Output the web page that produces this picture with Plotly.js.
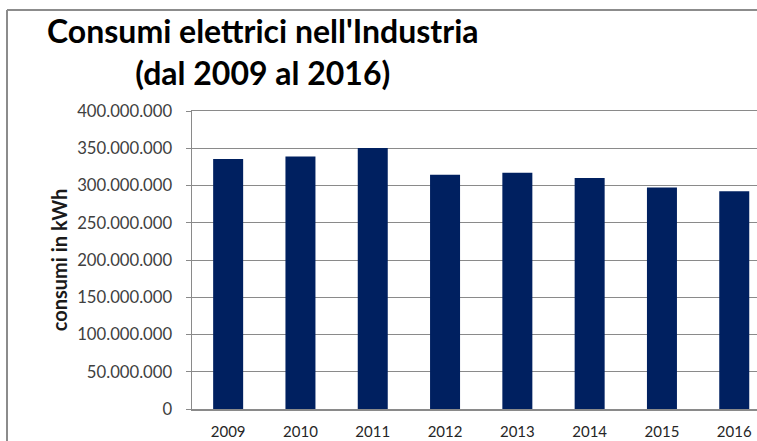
<!DOCTYPE html>
<html>
<head>
<meta charset="utf-8">
<script src="https://cdn.plot.ly/plotly-3.0.1.min.js"></script>
<style>
  html, body { margin: 0; padding: 0; overflow: hidden; background: #fff; width: 757px; height: 441px; }
  #chart { width: 757px; height: 441px; }
</style>
</head>
<body>
<div id="chart"></div>
<script>
const years = ['2009', '2010', '2011', '2012', '2013', '2014', '2015', '2016'];
const consumi = [335500000, 339000000, 350500000, 314500000, 317000000, 310000000, 297300000, 292300000];
const yTicks = [0, 50000000, 100000000, 150000000, 200000000, 250000000, 300000000, 350000000, 400000000];

const W = 757, H = 441;
const plotLeft = 192, plotTop = 111, plotH = 298;
const plotW = W - plotLeft;
const catStep = 72.3;
const px2x = p => (p - plotLeft) / plotW;
const py2y = p => (plotTop + plotH - p) / plotH;

const trace = {
  type: 'bar',
  x: years,
  y: consumi,
  marker: { color: '#002060' },
  hoverinfo: 'x+y'
};

const frameColor = '#8c8c8c';

const layout = {
  width: W,
  height: H,
  margin: { l: plotLeft, r: 0, t: plotTop, b: H - plotTop - plotH },
  paper_bgcolor: '#ffffff',
  plot_bgcolor: '#ffffff',
  separators: ',.',
  bargap: 0.585,
  showlegend: false,
  xaxis: {
    type: 'category',
    range: [-0.5, -0.5 + plotW / catStep],
    showgrid: false,
    showline: true,
    linecolor: '#8a8a8a',
    linewidth: 1.5,
    mirror: true,
    ticks: '',
    ticklabelstandoff: 8,
    tickfont: { family: 'Lato, sans-serif', size: 15, color: '#262626' },
    zeroline: false
  },
  yaxis: {
    range: [0, 400000000],
    tickvals: yTicks,
    tickformat: ',d',
    showgrid: true,
    gridcolor: '#8a8a8a',
    gridwidth: 1,
    showline: true,
    linecolor: '#8a8a8a',
    linewidth: 1.5,
    mirror: false,
    ticks: 'outside',
    ticklen: 5,
    tickcolor: '#8a8a8a',
    ticklabelstandoff: 10,
    tickfont: { family: 'Lato, sans-serif', size: 16.7, color: '#404040' },
    zeroline: false,
    title: {
      text: 'consumi in kWh',
      font: { family: 'Lato, sans-serif', size: 20, color: '#1a1a1a', weight: 'bold' },
      standoff: 4
    }
  },
  annotations: [{
    xref: 'paper', yref: 'paper',
    x: px2x(263), y: py2y(52),
    xanchor: 'center', yanchor: 'middle',
    text: "<b>Consumi elettrici nell'Industria<br>(dal 2009 al 2016)</b>",
    showarrow: false,
    align: 'center',
    font: { family: 'Lato, sans-serif', size: 32, color: '#000000' }
  }],
  shapes: [
    {
      type: 'line', xref: 'paper', yref: 'paper',
      x0: px2x(7), x1: px2x(757), y0: py2y(10), y1: py2y(10),
      line: { color: frameColor, width: 2 }, layer: 'below'
    },
    {
      type: 'line', xref: 'paper', yref: 'paper',
      x0: px2x(7), x1: px2x(7), y0: py2y(10), y1: py2y(441),
      line: { color: frameColor, width: 2 }, layer: 'below'
    }
  ]
};

Plotly.newPlot('chart', [trace], layout, { displayModeBar: false, staticPlot: true });
</script>
</body>
</html>
